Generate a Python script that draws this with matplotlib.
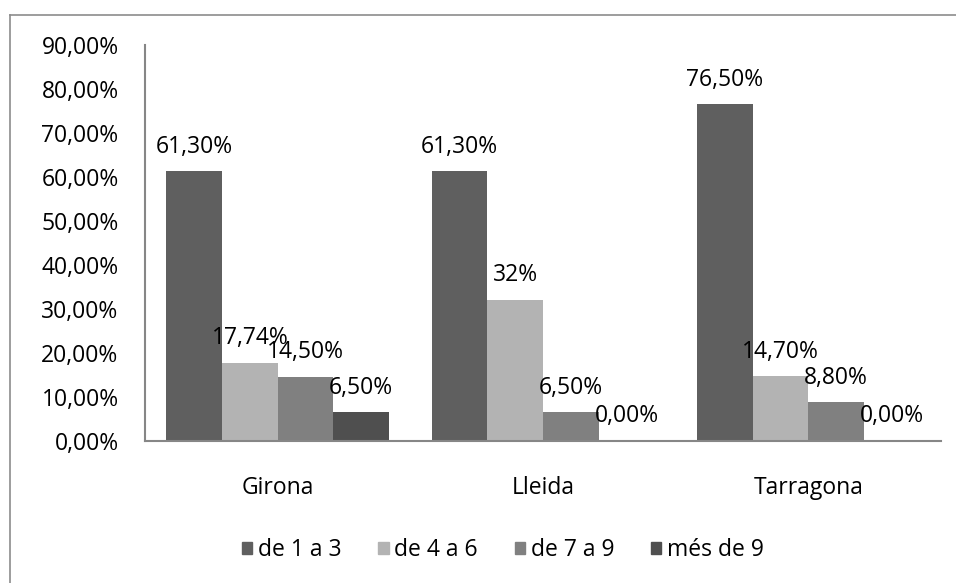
import matplotlib
matplotlib.use("Agg")
import matplotlib.pyplot as plt
from matplotlib.lines import Line2D
import numpy as np

plt.rcParams['font.family'] = ['Open Sans', 'DejaVu Sans']

categories = ["Girona", "Lleida", "Tarragona"]
series_names = ["de 1 a 3", "de 4 a 6", "de 7 a 9", "més de 9"]
values = [
    [61.30, 61.30, 76.50],
    [17.74, 32.00, 14.70],
    [14.50, 6.50, 8.80],
    [6.50, 0.00, 0.00],
]
labels = [
    ["61,30%", "61,30%", "76,50%"],
    ["17,74%", "32%", "14,70%"],
    ["14,50%", "6,50%", "8,80%"],
    ["6,50%", "0,00%", "0,00%"],
]
yticks = [0, 10, 20, 30, 40, 50, 60, 70, 80, 90]
ytick_labels = ["0,00%", "10,00%", "20,00%", "30,00%", "40,00%", "50,00%",
                "60,00%", "70,00%", "80,00%", "90,00%"]
colors = ["#5f5f5f", "#b3b3b3", "#808080", "#4f4f4f"]

FS = 16.5
W, H = 956, 583
fig = plt.figure(figsize=(W / 100, H / 100), dpi=100)
ax = fig.add_axes([145 / W, 1 - 441 / H, (941 - 145) / W, (441 - 45) / H])

x = np.arange(len(categories))
bw = 0.21
for i, (name, vals) in enumerate(zip(series_names, values)):
    pos = x + (i - 1.5) * bw
    bars = ax.bar(pos, vals, width=bw, color=colors[i], label=name, zorder=2)
    for b, lab in zip(bars, labels[i]):
        ax.annotate(lab, (b.get_x() + b.get_width() / 2, b.get_height()),
                    xytext=(0, 13.5), textcoords="offset points",
                    ha="center", va="baseline", fontsize=FS, color="black",
                    zorder=3)

ax.set_xlim(-0.5, 2.5)
ax.set_ylim(0, 90)
ax.set_yticks(yticks)
ax.set_yticklabels(ytick_labels)
ax.set_xticks(x)
ax.set_xticklabels(categories)
ax.tick_params(axis='y', length=0, pad=19, labelsize=FS)
ax.tick_params(axis='x', length=0, pad=25, labelsize=FS)
for s in ["top", "right"]:
    ax.spines[s].set_visible(False)
for s in ["left", "bottom"]:
    ax.spines[s].set_color("#868686")
    ax.spines[s].set_linewidth(1.5)

handles = [plt.Rectangle((0, 0), 1, 1, color=c) for c in colors]
fig.legend(handles, series_names, loc="center", bbox_to_anchor=(503 / W, 1 - 550 / H),
           ncol=4, frameon=False, fontsize=FS, handlelength=0.45, handleheight=0.45,
           handletextpad=0.25, columnspacing=1.6)

# outer chart frame (only top and left edges visible)
fig.add_artist(Line2D([10 / W, 1], [1 - 15 / H, 1 - 15 / H], color="#8c8c8c", lw=1.2,
                      transform=fig.transFigure))
fig.add_artist(Line2D([10 / W, 10 / W], [0, 1 - 15 / H], color="#8c8c8c", lw=1.2,
                      transform=fig.transFigure))

fig.savefig("out.png", dpi=100)
